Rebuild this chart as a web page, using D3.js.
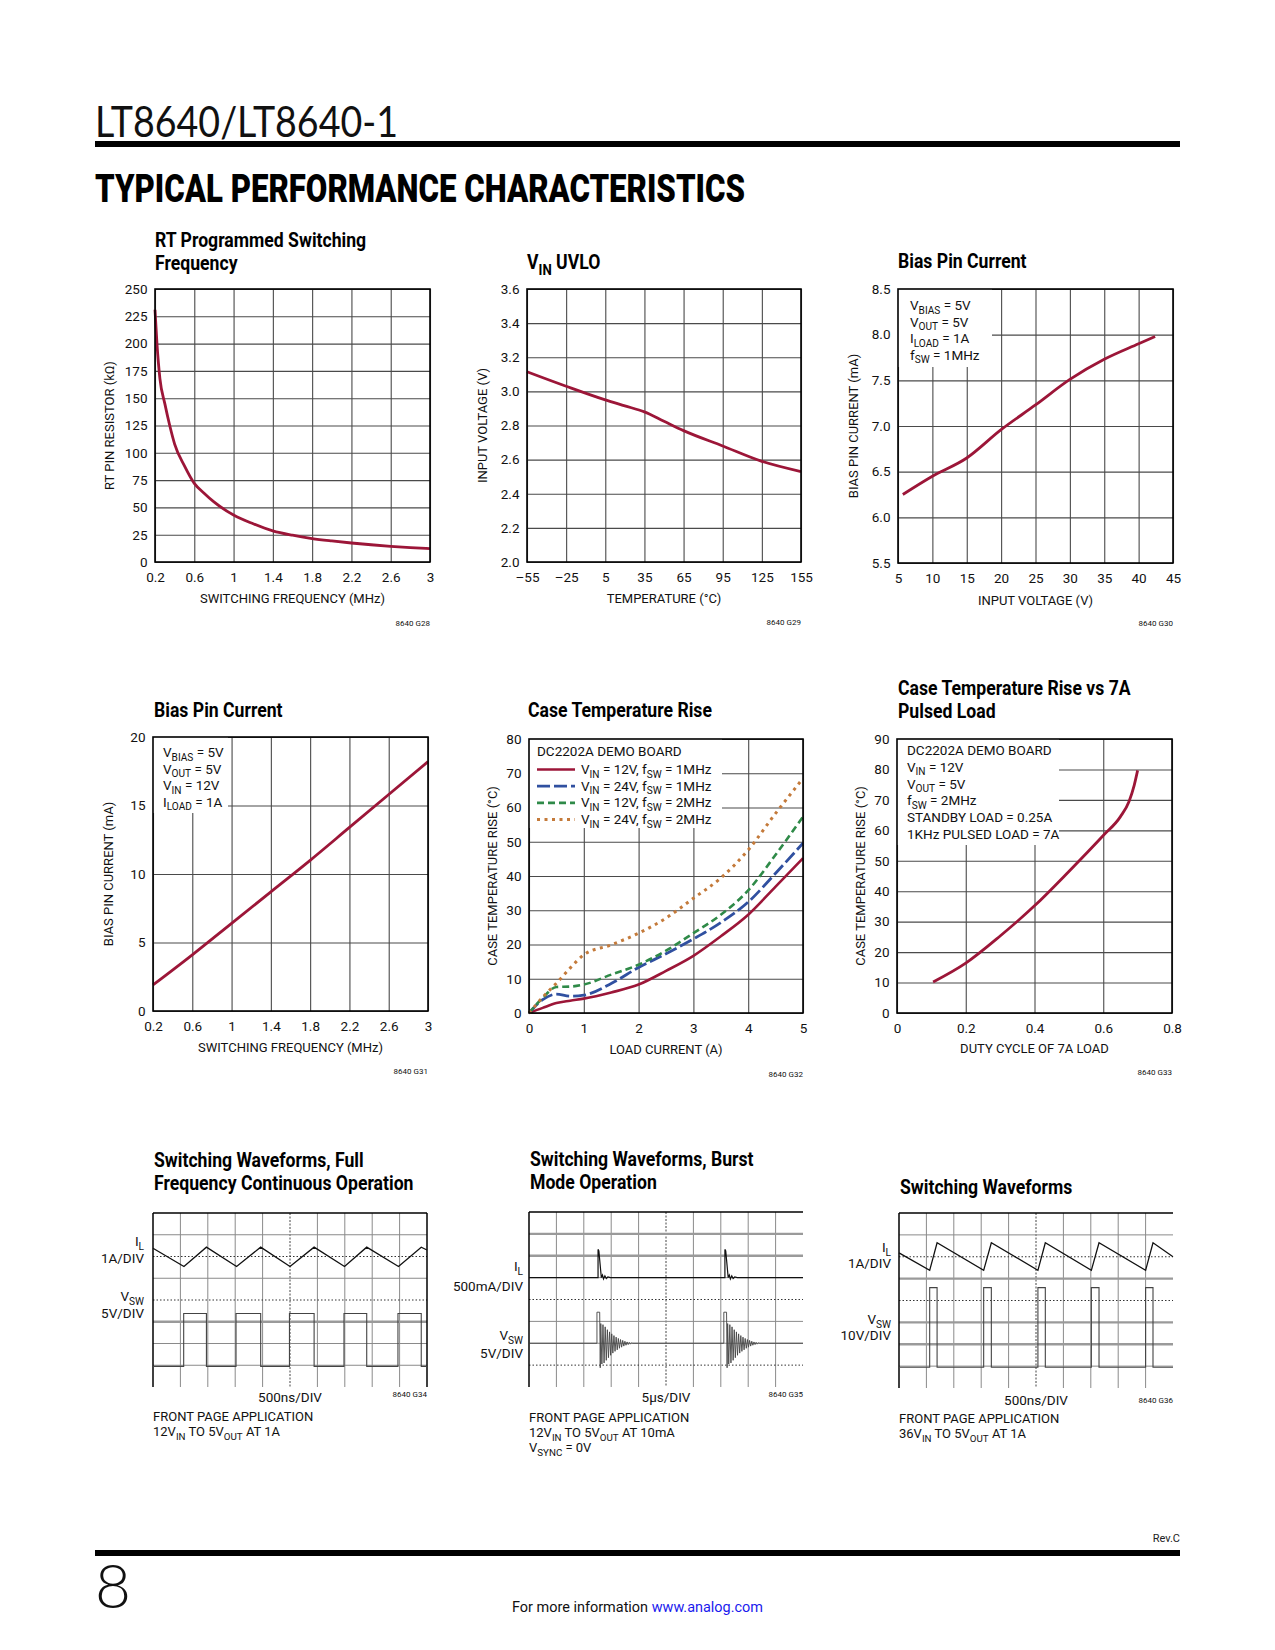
<!DOCTYPE html>
<html><head><meta charset="utf-8">
<script src="https://cdnjs.cloudflare.com/ajax/libs/d3/7.8.5/d3.min.js"></script>
<style>body{margin:0;background:#fff}svg{display:block}</style>
</head><body>
<script>
// ---------------- DATA ----------------
// Chart 1: RT programmed switching frequency
const rtFreq = [0.2,0.22,0.25,0.3,0.35,0.4,0.5,0.6,0.7,0.8,1.0,1.2,1.4,1.6,1.8,2.0,2.2,2.4,2.6,2.8,3.0];
const rtRes  = [231,200,168,145,125,108,88,72,63,55,43,35,28.5,24.5,21.5,19.3,17.4,15.8,14.4,13.2,12.2];
const freqTicks = [0.2,0.6,1.0,1.4,1.8,2.2,2.6,3.0];
const freqTickLabels = ["0.2","0.6","1","1.4","1.8","2.2","2.6","3"];
const rtTicks = [0,25,50,75,100,125,150,175,200,225,250];
const rtTickLabels = ["0","25","50","75","100","125","150","175","200","225","250"];
// Chart 2: VIN UVLO
const uvloTemp = [-55,-25,5,20,35,50,65,95,125,155];
const uvloV    = [3.115,3.03,2.95,2.915,2.88,2.825,2.77,2.68,2.59,2.53];
const tempTicks = [-55,-25,5,35,65,95,125,155];
const tempTickLabels = ["\u201355","\u201325","5","35","65","95","125","155"];
const uvloTicks = [2.0,2.2,2.4,2.6,2.8,3.0,3.2,3.4,3.6];
const uvloTickLabels = ["2.0","2.2","2.4","2.6","2.8","3.0","3.2","3.4","3.6"];
// Chart 3: Bias pin current vs input voltage
const biasVin = [5.7,10,15,20,25,30,35,40,42.4];
const biasI   = [6.25,6.45,6.65,6.96,7.23,7.51,7.73,7.9,7.98];
const vinTicks = [5,10,15,20,25,30,35,40,45];
const vinTickLabels = ["5","10","15","20","25","30","35","40","45"];
const biasTicks = [5.5,6.0,6.5,7.0,7.5,8.0,8.5];
const biasTickLabels = ["5.5","6.0","6.5","7.0","7.5","8.0","8.5"];
const biasVinNotes = ["V_{BIAS} = 5V","V_{OUT} = 5V","I_{LOAD} = 1A","f_{SW} = 1MHz"];
// Chart 4: Bias pin current vs frequency
const bfFreq = [0.2,0.6,1.0,1.4,1.8,2.2,2.6,3.0];
const bfI    = [1.9,4.1,6.4,8.7,11.0,13.4,15.8,18.2];
const bfTicks = [0,5,10,15,20];
const bfTickLabels = ["0","5","10","15","20"];
const biasFreqNotes = ["V_{BIAS} = 5V","V_{OUT} = 5V","V_{IN} = 12V","I_{LOAD} = 1A"];
// Chart 5: Case temperature rise
const loadA     = [0,0.25,0.5,0.75,1,1.5,2,2.5,3,3.5,4,4.5,5];
const rise12v1m = [0,1.5,2.9,3.6,4.2,6.0,8.3,12.3,16.7,22.4,28.7,36.9,45.2];
const rise24v1m = [0,3.9,5.5,4.9,5.2,8.6,13.3,17.3,21.6,26.4,32.4,40.8,49.6];
const rise12v2m = [0,4.4,7.6,7.7,8.3,11.2,14.1,18.2,23.3,28.7,35.8,46.2,57.3];
const rise24v2m = [0,4.6,8.7,13.1,17.0,19.9,23.3,27.7,33.5,39.4,47.6,58.3,68.5];
const caseSeriesNames = ["V_{IN} = 12V, f_{SW} = 1MHz","V_{IN} = 24V, f_{SW} = 1MHz","V_{IN} = 12V, f_{SW} = 2MHz","V_{IN} = 24V, f_{SW} = 2MHz"];
const loadTicks = [0,1,2,3,4,5];
const loadTickLabels = ["0","1","2","3","4","5"];
const caseTicks = [0,10,20,30,40,50,60,70,80];
const caseTickLabels = ["0","10","20","30","40","50","60","70","80"];
// Chart 6: Case temperature rise vs 7A pulsed load
const duty     = [0.105,0.2,0.3,0.4,0.5,0.6,0.65,0.675,0.69,0.70];
const pulseRise= [10.2,16.4,25.3,35.2,46.5,58.3,64.5,69.5,74.8,79.7];
const dutyTicks = [0,0.2,0.4,0.6,0.8];
const dutyTickLabels = ["0","0.2","0.4","0.6","0.8"];
const pulseTicks = [0,10,20,30,40,50,60,70,80,90];
const pulseTickLabels = ["0","10","20","30","40","50","60","70","80","90"];
const pulseNotes = ["DC2202A DEMO BOARD","V_{IN} = 12V","V_{OUT} = 5V","f_{SW} = 2MHz","STANDBY LOAD = 0.25A","1KHz PULSED LOAD = 7A"];
// Scope 1 (divisions: time 0-10, level 0-8 from top)
const s1IlT = [0,1.13,1.95,3.05,3.93,5.0,5.88,6.99,7.8,8.96,9.79,10];
const s1IlV = [1.62,2.46,1.57,2.46,1.57,2.46,1.57,2.46,1.57,2.46,1.57,1.7];
const s1SwRise = [1.12,3.03,4.98,6.97,8.94];
const s1SwFall = [1.95,3.93,5.88,7.8,9.79];
const s1SwLevels = [7.05,4.62];
// Scope 2 (burst)
const s2BurstStart = [2.52,7.15];
const s2Base = [3.0,6.0];
const s2IlDt = [0,0.0,0.03,0.12,0.16,0.2,0.25,0.3,0.36,0.45];
const s2IlDv = [0,-1.29,-1.22,0.0,-0.12,0.06,-0.08,0.04,-0.03,0];
const s2SwDt = [-0.04,-0.04,0.06,0.08];
const s2SwDv = [0,-1.42,-1.42,1.12];
const s2Ring = [-0.9,0.95,-0.85,0.9,-0.75,0.78,-0.62,0.66,-0.52,0.55,-0.43,0.45,-0.35,0.37,-0.28,0.3,-0.22,0.23,-0.17,0.18,-0.13,0.13,-0.09,0.09,-0.06,0.06,-0.04,0.04,-0.02,0];
// Scope 3 (36V)
const s3IlT = [0,1.12,1.39,3.09,3.37,5.07,5.34,7.02,7.3,9.0,9.27,10];
const s3IlV = [1.82,2.62,1.36,2.62,1.36,2.62,1.36,2.62,1.36,2.62,1.36,2.0];
const s3SwRise = [1.12,3.09,5.07,7.02,9.0];
const s3SwFall = [1.39,3.37,5.34,7.3,9.27];
const s3SwLevels = [7.05,3.41];

// ---------------- DRAWING ----------------
const FONT = "Roboto, 'Liberation Sans', Arial, sans-serif";
const RED = "#9c1638", BLUE = "#3050a0", GREEN = "#2f8a48", ORANGE = "#c47a3a";
const svg = d3.select("body").append("svg").attr("width",1275).attr("height",1650);

function rich(t, str, fs){
  const sh = fs*0.27;
  const re = /_\{([^}]*)\}/g; let last=0, m, shifted=false;
  while((m = re.exec(str))){
    if(m.index>last){ t.append("tspan").attr("dy", shifted? -sh:0).text(str.slice(last,m.index)); shifted=false; }
    t.append("tspan").attr("font-size", (fs*0.75)+"px").attr("dy", shifted?0:sh).text(m[1]); shifted=true;
    last = re.lastIndex;
  }
  if(last<str.length) t.append("tspan").attr("dy", shifted? -sh:0).text(str.slice(last));
  return t;
}
function txt(p, x, y, str, fs, opt={}){
  const t = p.append("text").attr("x",x).attr("y",y).attr("font-family",opt.family||FONT)
    .attr("font-size",fs+"px").attr("fill",opt.fill||"#111")
    .attr("text-anchor",opt.anchor||"start").attr("font-weight",opt.weight||400);
  rich(t,str,fs); return t;
}
function title(p, x, ys, lines){
  lines.forEach((l,i)=>{
    const g = p.append("g").attr("transform",`translate(${x},${ys[i]}) scale(0.86,1)`);
    txt(g,0,0,l,20.5,{weight:700,fill:"#000"});
  });
}

function xyChart(o){
  const g = svg.append("g");
  const x = d3.scaleLinear().domain(o.xDomain).range([o.left,o.left+o.w]);
  const y = d3.scaleLinear().domain(o.yDomain).range([o.top+o.h,o.top]);
  g.append("g").attr("transform",`translate(0,${o.top+o.h})`)
    .call(d3.axisBottom(x).tickValues(o.xTicks).tickSize(-o.h).tickFormat(""))
    .call(s=>{s.select(".domain").remove(); s.selectAll("line").attr("stroke",o.vGrid||"#4a4a4a").attr("stroke-width",1.1);});
  g.append("g").attr("transform",`translate(${o.left},0)`)
    .call(d3.axisLeft(y).tickValues(o.yTicks).tickSize(-o.w).tickFormat(""))
    .call(s=>{s.select(".domain").remove(); s.selectAll("line").attr("stroke",o.hGrid||"#4a4a4a").attr("stroke-width",1.1);});
  if(o.box){
    g.append("rect").attr("x",o.left).attr("y",o.top).attr("width",o.box[0]-o.left).attr("height",o.box[1]-o.top).attr("fill","#fff");
  }
  o.series.forEach(s=>{
    const pts = s.x.map((v,i)=>[v,s.y[i]]);
    g.append("path").datum(pts).attr("fill","none").attr("stroke",s.color).attr("stroke-width",s.width||2.8)
      .attr("stroke-dasharray",s.dash||null)
      .attr("d", d3.line().x(d=>x(d[0])).y(d=>y(d[1])).curve(d3.curveMonotoneX));
  });
  g.append("rect").attr("x",o.left).attr("y",o.top).attr("width",o.w).attr("height",o.h)
    .attr("fill","none").attr("stroke","#000").attr("stroke-width",1.6);
  g.append("g").attr("transform",`translate(${o.left},0)`)
    .call(d3.axisLeft(y).tickValues(o.yTicks).tickSize(0).tickPadding(7.5).tickFormat((d,i)=>o.yLabels[i]))
    .call(s=>{s.select(".domain").remove(); s.selectAll("text").attr("font-family",FONT).attr("font-size","13.5px").attr("fill","#111");});
  g.append("g").attr("transform",`translate(0,${o.top+o.h})`)
    .call(d3.axisBottom(x).tickValues(o.xTicks).tickSize(0).tickPadding(10).tickFormat((d,i)=>o.xLabels[i]))
    .call(s=>{s.select(".domain").remove(); s.selectAll("text").attr("font-family",FONT).attr("font-size","13.5px").attr("fill","#111");});
  const cy = o.top+o.h/2;
  txt(g, 0, 0, o.yTitle, 13, {anchor:"middle"}).attr("transform",`translate(${o.yTitleX+4.6},${cy}) rotate(-90)`);
  txt(g, o.left+o.w/2, o.xTitleY, o.xTitle, 13, {anchor:"middle"});
  txt(g, o.left+o.w, o.codeY, o.code, 8, {anchor:"end"});
  title(g, o.titleX, o.titleY, o.title);
  if(o.notes){
    o.notes.forEach((n,i)=>txt(g, o.noteX, o.noteY0+i*o.notePitch, n, 13.5));
  }
  return {g,x,y};
}

xyChart({left:155,top:289,w:275,h:273,xDomain:[0.2,3],yDomain:[0,250],
  xTicks:freqTicks,xLabels:freqTickLabels,yTicks:rtTicks,yLabels:rtTickLabels,
  series:[{x:rtFreq,y:rtRes,color:RED}],
  yTitle:"RT PIN RESISTOR (k\u03A9)",yTitleX:109,xTitle:"SWITCHING FREQUENCY (MHz)",xTitleY:603,
  code:"8640 G28",codeY:626,title:["RT Programmed Switching","Frequency"],titleX:155,titleY:[247,270]});
xyChart({left:527,top:289,w:274,h:273,xDomain:[-55,155],yDomain:[2.0,3.6],
  xTicks:tempTicks,xLabels:tempTickLabels,yTicks:uvloTicks,yLabels:uvloTickLabels,
  series:[{x:uvloTemp,y:uvloV,color:RED}],
  yTitle:"INPUT VOLTAGE (V)",yTitleX:482,xTitle:"TEMPERATURE (\u00B0C)",xTitleY:603,
  code:"8640 G29",codeY:625,title:["V_{IN} UVLO"],titleX:527,titleY:[269]});
xyChart({left:898,top:289,w:275,h:274,xDomain:[5,45],yDomain:[5.5,8.5],
  xTicks:vinTicks,xLabels:vinTickLabels,yTicks:biasTicks,yLabels:biasTickLabels,
  series:[{x:biasVin,y:biasI,color:RED}],box:[992,367],
  notes:biasVinNotes,noteX:910,noteY0:310,notePitch:16.5,
  yTitle:"BIAS PIN CURRENT (mA)",yTitleX:853,xTitle:"INPUT VOLTAGE (V)",xTitleY:605,
  code:"8640 G30",codeY:626,title:["Bias Pin Current"],titleX:898,titleY:[268]});
xyChart({left:153,top:737,w:275,h:274,xDomain:[0.2,3],yDomain:[0,20],
  xTicks:freqTicks,xLabels:freqTickLabels,yTicks:bfTicks,yLabels:bfTickLabels,
  series:[{x:bfFreq,y:bfI,color:RED}],box:[228,813],
  notes:biasFreqNotes,noteX:163,noteY0:757,notePitch:16.5,
  yTitle:"BIAS PIN CURRENT (mA)",yTitleX:108,xTitle:"SWITCHING FREQUENCY (MHz)",xTitleY:1052,
  code:"8640 G31",codeY:1074,title:["Bias Pin Current"],titleX:154,titleY:[717]});
const caseStyles = [{color:RED,dash:null,width:2.6},{color:BLUE,dash:"13,4",width:2.8},{color:GREEN,dash:"7,4",width:2.6},{color:ORANGE,dash:"3,4.5",width:3}];
const caseData = [rise12v1m,rise24v1m,rise12v2m,rise24v2m];
const c5 = xyChart({left:529,top:739,w:274,h:274,xDomain:[0,5],yDomain:[0,80],
  xTicks:loadTicks,xLabels:loadTickLabels,yTicks:caseTicks,yLabels:caseTickLabels,
  series:caseData.map((d,i)=>({x:loadA,y:d,color:caseStyles[i].color,dash:caseStyles[i].dash,width:caseStyles[i].width})),
  box:[722,828],notes:["DC2202A DEMO BOARD"],noteX:537,noteY0:756,notePitch:16.7,
  yTitle:"CASE TEMPERATURE RISE (\u00B0C)",yTitleX:492,xTitle:"LOAD CURRENT (A)",xTitleY:1054,
  code:"8640 G32",codeY:1077,title:["Case Temperature Rise"],titleX:528,titleY:[717]});
caseSeriesNames.forEach((n,i)=>{
  const yb = 774 + i*16.7;
  c5.g.append("line").attr("x1",537).attr("x2",575).attr("y1",yb-4.5).attr("y2",yb-4.5)
    .attr("stroke",caseStyles[i].color).attr("stroke-width",caseStyles[i].width).attr("stroke-dasharray",caseStyles[i].dash);
  txt(c5.g,581,yb,n,13.5);
});
xyChart({left:897,top:739,w:275,h:274,xDomain:[0,0.8],yDomain:[0,90],
  xTicks:dutyTicks,xLabels:dutyTickLabels,yTicks:pulseTicks,yLabels:pulseTickLabels,
  series:[{x:duty,y:pulseRise,color:RED}],box:[1059,845],
  notes:pulseNotes,noteX:907,noteY0:755,notePitch:16.8,
  yTitle:"CASE TEMPERATURE RISE (\u00B0C)",yTitleX:860,xTitle:"DUTY CYCLE OF 7A LOAD",xTitleY:1053,
  code:"8640 G33",codeY:1075,title:["Case Temperature Rise vs 7A","Pulsed Load"],titleX:898,titleY:[695,718]});

// ---------- scopes ----------
function scope(o){
  const g = svg.append("g");
  const x = d3.scaleLinear().domain([0,10]).range([o.left,o.left+o.w]);
  const y = d3.scaleLinear().domain([0,8]).range([o.top,o.top+o.h]);
  g.selectAll("line.v").data(d3.range(1,10)).join("line")
    .attr("x1",d=>x(d)).attr("x2",d=>x(d)).attr("y1",y(0)).attr("y2",y(8))
    .attr("stroke",d=>d===5?"#444":"#8a8a8a").attr("stroke-width",1)
    .attr("stroke-dasharray",d=>d===5?"2,1.5":null);
  g.selectAll("line.h").data(d3.range(1,8)).join("line")
    .attr("x1",x(0)).attr("x2",x(10)).attr("y1",d=>y(d)).attr("y2",d=>y(d))
    .attr("stroke",d=>o.thick.includes(d)?"#9a9a9a":(o.dotted.includes(d)?"#333":"#8a8a8a"))
    .attr("stroke-width",d=>o.thick.includes(d)?2.4:1)
    .attr("stroke-dasharray",d=>o.dotted.includes(d)?"1.5,2":null);
  g.append("line").attr("x1",x(0)).attr("x2",x(10)).attr("y1",y(0)).attr("y2",y(0)).attr("stroke","#000").attr("stroke-width",1.5);
  g.append("line").attr("x1",x(0)).attr("x2",x(0)).attr("y1",y(0)).attr("y2",y(8)).attr("stroke","#000").attr("stroke-width",1.5);
  if(o.rightBorder) g.append("line").attr("x1",x(10)).attr("x2",x(10)).attr("y1",y(0)).attr("y2",y(8)).attr("stroke","#000").attr("stroke-width",1.5);
  const line = d3.line().x(d=>x(d[0])).y(d=>y(d[1]));
  o.traces.forEach(t=>{
    g.append("path").datum(t.pts).attr("fill","none").attr("stroke",t.color||"#222").attr("stroke-width",t.width||1.2).attr("d",line);
  });
  o.labels.forEach(l=>txt(g,o.labelX,l[1],l[0],13.5,{anchor:"end"}));
  txt(g,o.left+o.w/2,o.xTitleY,o.xTitle,13.5,{anchor:"middle"});
  txt(g,o.left+o.w,o.codeY,o.code,8,{anchor:"end"});
  o.notes.forEach((n,i)=>txt(g,o.left,o.notesY0+i*15,n,13));
  title(g,o.left+1,o.titleY,o.title);
}
function pulseTrain(rise,fall,lv){
  const pts=[[0,lv[0]]];
  rise.forEach((r,i)=>{ pts.push([r,lv[0]],[r,lv[1]],[fall[i],lv[1]],[fall[i],lv[0]]); });
  pts.push([10,lv[0]]); return pts;
}
function burstTrain(starts, base, dt, dv, ring){
  const pts=[[0,base]];
  starts.forEach(t0=>{
    dt.forEach((d,k)=>pts.push([t0+d, base+dv[k]]));
    if(ring){ ring.forEach((r,k)=>pts.push([t0+0.1+k*0.04, base+r])); }
  });
  pts.push([10,base]); return pts;
}
scope({left:153,top:1213,w:274,h:174,rightBorder:true,thick:[5],dotted:[2,4],
  traces:[{pts:s1IlT.map((t,i)=>[t,s1IlV[i]]),color:"#111",width:1.3},{pts:pulseTrain(s1SwRise,s1SwFall,s1SwLevels),color:"#444",width:1.1}],
  labelX:144,labels:[["I_{L}",1246],["1A/DIV",1263],["V_{SW}",1301],["5V/DIV",1318]],
  xTitle:"500ns/DIV",xTitleY:1402,code:"8640 G34",codeY:1397,
  notes:["FRONT PAGE APPLICATION","12V_{IN} TO 5V_{OUT} AT 1A"],notesY0:1421,
  title:["Switching Waveforms, Full","Frequency Continuous Operation"],titleY:[1167,1190]});
scope({left:529,top:1212,w:274,h:175,rightBorder:false,thick:[1,2],dotted:[4,7],
  traces:[{pts:burstTrain(s2BurstStart,s2Base[0],s2IlDt,s2IlDv,null),color:"#111",width:1.2},
          {pts:burstTrain(s2BurstStart,s2Base[1],s2SwDt,s2SwDv,s2Ring),color:"#444",width:0.9}],
  labelX:523,labels:[["I_{L}",1271],["500mA/DIV",1291],["V_{SW}",1340],["5V/DIV",1358]],
  xTitle:"5\u00B5s/DIV",xTitleY:1402,code:"8640 G35",codeY:1397,
  notes:["FRONT PAGE APPLICATION","12V_{IN} TO 5V_{OUT} AT 10mA","V_{SYNC} = 0V"],notesY0:1422,
  title:["Switching Waveforms, Burst","Mode Operation"],titleY:[1166,1189]});
scope({left:899,top:1213,w:274,h:175,rightBorder:false,thick:[3,5,6],dotted:[2,4],
  traces:[{pts:s3IlT.map((t,i)=>[t,s3IlV[i]]),color:"#111",width:1.3},{pts:pulseTrain(s3SwRise,s3SwFall,s3SwLevels),color:"#444",width:1.1}],
  labelX:891,labels:[["I_{L}",1252],["1A/DIV",1268],["V_{SW}",1324],["10V/DIV",1340]],
  xTitle:"500ns/DIV",xTitleY:1405,code:"8640 G36",codeY:1403,
  notes:["FRONT PAGE APPLICATION","36V_{IN} TO 5V_{OUT} AT 1A"],notesY0:1423,
  title:["Switching Waveforms"],titleY:[1194]});

// ---------- page header/footer ----------
svg.append("text").attr("x",95).attr("y",137).attr("font-family","Lato, 'Noto Sans', sans-serif").attr("font-weight",400)
  .attr("font-size","43px").attr("fill","#111").attr("textLength",303).attr("lengthAdjust","spacingAndGlyphs").text("LT8640/LT8640-1");
svg.append("rect").attr("x",95).attr("y",141).attr("width",1085).attr("height",6).attr("fill","#000");
svg.append("text").attr("x",95).attr("y",202).attr("font-family",FONT).attr("font-weight",900)
  .attr("font-size","38px").attr("fill","#000").attr("textLength",650).attr("lengthAdjust","spacingAndGlyphs").text("TYPICAL PERFORMANCE CHARACTERISTICS");
svg.append("text").attr("x",1180).attr("y",1542).attr("text-anchor","end").attr("font-family",FONT)
  .attr("font-size","11px").attr("fill","#222").text("Rev.C");
svg.append("rect").attr("x",95).attr("y",1550).attr("width",1085).attr("height",6).attr("fill","#000");
svg.append("text").attr("x",95).attr("y",1608).attr("font-family","Lato, 'Noto Sans', sans-serif").attr("font-weight",300)
  .attr("font-size","62px").attr("fill","#111").text("8");
const ft = svg.append("text").attr("x",512).attr("y",1612).attr("font-family",FONT).attr("font-size","15px").attr("fill","#111")
  .attr("textLength",251).attr("lengthAdjust","spacingAndGlyphs");
ft.append("tspan").text("For more information ");
ft.append("tspan").attr("fill","#1a1aee").text("www.analog.com");
</script>
</body></html>
